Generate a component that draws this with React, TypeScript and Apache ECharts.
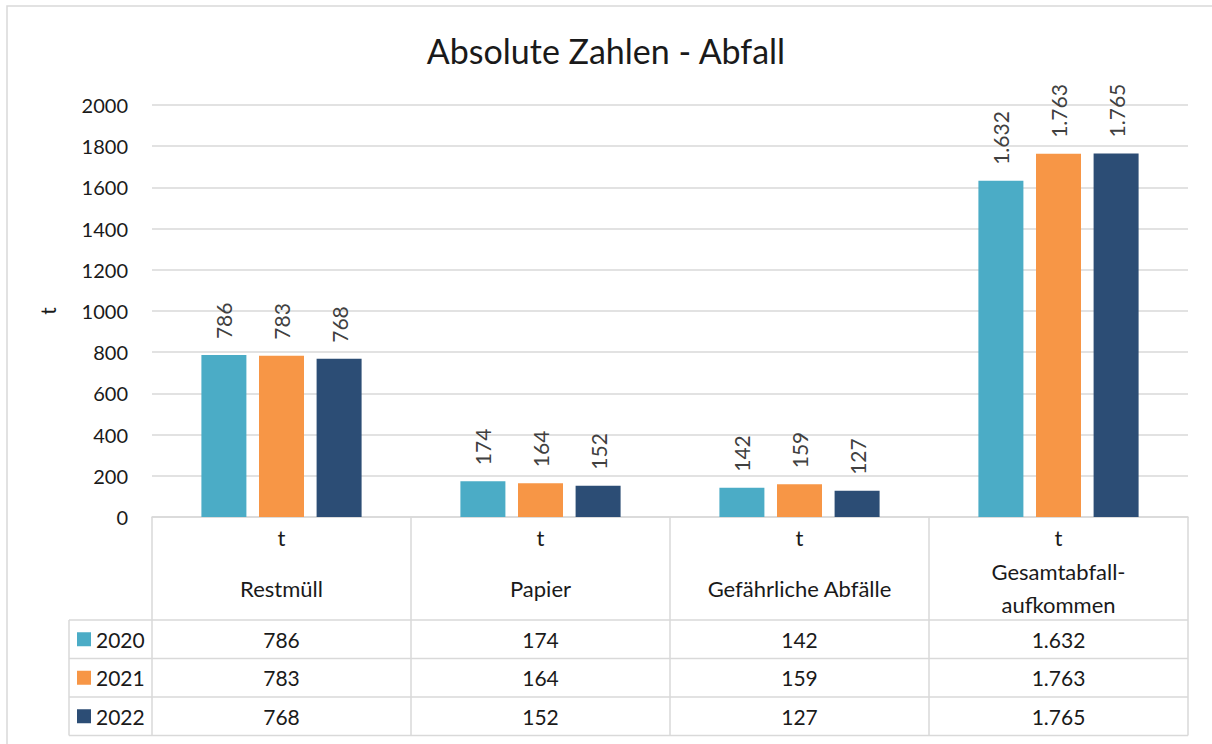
import React, { useEffect, useRef } from "react";
import * as echarts from "echarts";

const categories = ["Restmüll", "Papier", "Gefährliche Abfälle", "Gesamtabfall-\naufkommen"];
const unitLabels = ["t", "t", "t", "t"];
const years = ["2020", "2021", "2022"];
const values2020 = [786, 174, 142, 1632];
const values2021 = [783, 164, 159, 1763];
const values2022 = [768, 152, 127, 1765];
const colors = ["#4BACC6", "#F79646", "#2C4D75"];
const yTicks = { min: 0, max: 2000, interval: 200 };

const FONT = "Lato, 'Noto Sans', sans-serif";

function fmt(v: number): string {
  const s = String(Math.round(v));
  return s.replace(/\B(?=(\d{3})+(?!\d))/g, ".");
}

export default function App() {
  const ref = useRef<HTMLDivElement>(null);
  useEffect(() => {
    if (!ref.current) return;
    const chart = echarts.init(ref.current, null, { renderer: "svg" });
    const seriesData = [values2020, values2021, values2022];
    const gridLeft = 152, gridRight = 24, gridTop = 105, gridBottom = 227;
    const option: any = {
      animation: false,
      backgroundColor: "#ffffff",
      title: {
        text: "Absolute Zahlen - Abfall",
        left: "center",
        top: 28,
        textStyle: { fontFamily: FONT, fontSize: 34, fontWeight: "normal", color: "#1a1a1a" },
      },
      grid: { left: gridLeft, right: gridRight, top: gridTop, bottom: gridBottom },
      xAxis: {
        type: "category",
        data: categories,
        axisLine: { show: true, lineStyle: { color: "#d9d9d9", width: 1.5 } },
        axisTick: { show: false },
        axisLabel: { show: false },
        splitLine: { show: false },
      },
      yAxis: {
        type: "value",
        min: yTicks.min,
        max: yTicks.max,
        interval: yTicks.interval,
        name: "t",
        nameLocation: "middle",
        nameGap: 94,
        nameTextStyle: { fontFamily: FONT, fontSize: 21, color: "#1a1a1a" },
        axisLine: { show: false },
        axisTick: { show: false },
        axisLabel: { fontFamily: FONT, fontSize: 20, color: "#1a1a1a", margin: 24, formatter: (v: number) => String(v) },
        splitLine: { lineStyle: { color: "#d9d9d9", width: 1.5 } },
      },
      series: years.map((y, i) => ({
        name: y,
        type: "bar",
        data: seriesData[i],
        barWidth: 45,
        barGap: "28%",
        itemStyle: { color: colors[i] },
        label: {
          show: true,
          position: "top",
          rotate: 90,
          align: "left",
          verticalAlign: "middle",
          distance: 16,
          fontFamily: FONT,
          fontSize: 21,
          color: "#404040",
          formatter: (p: any) => fmt(p.value),
        },
      })),
    };
    chart.setOption(option);

    const xs = categories.map((c) => chart.convertToPixel({ xAxisIndex: 0 }, c) as number);
    const y0 = chart.convertToPixel({ yAxisIndex: 0 }, 0) as number;
    const plotLeft = gridLeft;
    const plotRight = 1212 - gridRight;
    const colW = (plotRight - plotLeft) / categories.length;
    const tableLeft = 69;
    const headerBottom = 620;
    const rowH = 38.5;
    const lineColor = "#d9d9d9";
    const g: any[] = [];
    g.push({ type: "rect", shape: { x: 7, y: 6, width: 1220, height: 760 }, style: { fill: "none", stroke: lineColor, lineWidth: 1.5 }, silent: true });
    for (let r = 0; r <= years.length; r++) {
      const y = headerBottom + r * rowH;
      g.push({ type: "line", shape: { x1: tableLeft, y1: y, x2: plotRight, y2: y }, style: { stroke: lineColor, lineWidth: 1.5 } });
    }
    for (let c = 0; c <= categories.length; c++) {
      const x = plotLeft + c * colW;
      g.push({ type: "line", shape: { x1: x, y1: y0, x2: x, y2: headerBottom + years.length * rowH }, style: { stroke: lineColor, lineWidth: 1.5 } });
    }
    g.push({ type: "line", shape: { x1: tableLeft, y1: headerBottom, x2: tableLeft, y2: headerBottom + years.length * rowH }, style: { stroke: lineColor, lineWidth: 1.5 } });
    categories.forEach((c, i) => {
      g.push({ type: "text", x: xs[i], y: 537, style: { text: unitLabels[i], fontFamily: FONT, fontSize: 22, fill: "#1a1a1a", align: "center", verticalAlign: "middle" } });
      g.push({ type: "text", x: xs[i], y: 588, style: { text: c, fontFamily: FONT, fontSize: 22, lineHeight: 33, fill: "#1a1a1a", align: "center", verticalAlign: "middle" } });
    });
    years.forEach((yr, r) => {
      const cy = headerBottom + r * rowH + rowH / 2;
      g.push({ type: "rect", shape: { x: 77, y: cy - 7, width: 14, height: 14 }, style: { fill: colors[r] } });
      g.push({ type: "text", x: 96, y: cy, style: { text: yr, fontFamily: FONT, fontSize: 21, fill: "#1a1a1a", align: "left", verticalAlign: "middle" } });
      seriesData[r].forEach((v, i) => {
        g.push({ type: "text", x: xs[i], y: cy, style: { text: fmt(v), fontFamily: FONT, fontSize: 21, fill: "#1a1a1a", align: "center", verticalAlign: "middle" } });
      });
    });
    chart.setOption({ graphic: g });

    return () => chart.dispose();
  }, []);
  return <div ref={ref} style={{ position: "fixed", left: 0, top: 0, width: 1212, height: 744 }} />;
}
